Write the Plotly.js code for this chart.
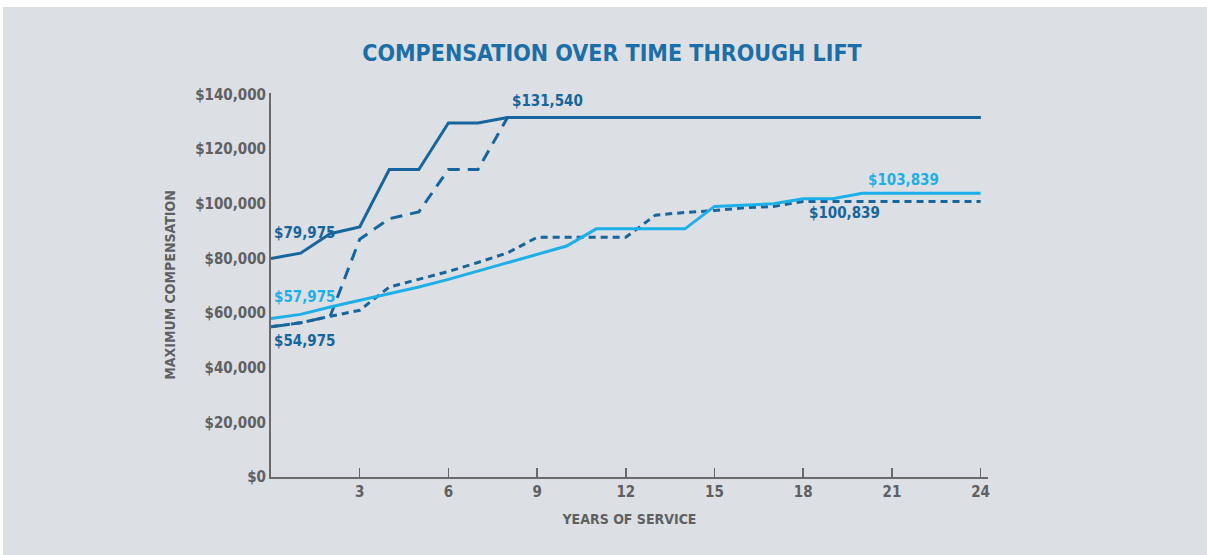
<!DOCTYPE html>
<html>
<head>
<meta charset="utf-8">
<script src="https://cdn.plot.ly/plotly-3.0.1.min.js"></script>
<style>
  body { margin:0; background:#ffffff; }
  #bg { position:absolute; left:3px; top:7px; width:1204px; height:548px; background:#dcdfe3; }
  #chart { position:absolute; left:0; top:0; width:1207px; height:555px; }
</style>
</head>
<body>
<div id="bg"></div>
<div id="chart"></div>
<script>
const years = [0,1,2,3,4,5,6,7,8,9,10,11,12,13,14,15,16,17,18,19,20,21,22,23,24];
const topSolid  = [79975,81900,89000,91500,112500,112500,129500,129500,131540,131540,131540,131540,131540,131540,131540,131540,131540,131540,131540,131540,131540,131540,131540,131540,131540];
const topDashed = [54975,56400,58800,87000,94500,97000,112500,112500,131540,131540,131540,131540,131540,131540,131540,131540,131540,131540,131540,131540,131540,131540,131540,131540,131540];
const lightSolid = [57975,59500,62200,64600,67000,69500,72300,75300,78300,81300,84500,90800,90800,90800,90800,99000,99500,100000,101800,101800,103839,103839,103839,103839,103839];
const darkDotted = [54975,56400,58800,61000,69500,72300,75200,78500,82000,87700,87700,87700,87700,95800,96800,97500,98500,99000,100839,100839,100839,100839,100839,100839,100839];
const yTickVals = [0,20000,40000,60000,80000,100000,120000,140000];
const yTickText = ['$0','$20,000','$40,000','$60,000','$80,000','$100,000','$120,000','$140,000'];
const xTickVals = [3,6,9,12,15,18,21,24];
const labels = ['$79,975','$131,540','$57,975','$54,975','$103,839','$100,839'];

const DARK = '#17659d';
const LIGHT = '#1db0e8';
const GRAY = '#5f6062';
const FONT = 'Liberation Sans Narrow, DejaVu Sans Condensed, sans-serif';

const traces = [
  {x: years, y: topDashed, mode:'lines', line:{color:DARK, width:3, dash:'12px,8px'}, hoverinfo:'skip'},
  {x: years, y: darkDotted, mode:'lines', line:{color:DARK, width:3, dash:'7px,5px'}, hoverinfo:'skip'},
  {x: years, y: lightSolid, mode:'lines', line:{color:LIGHT, width:3}, hoverinfo:'skip'},
  {x: years, y: topSolid, mode:'lines', line:{color:DARK, width:3}, hoverinfo:'skip'}
];

const annFont = (c) => ({family: FONT, size: 15, color: c, weight: 'bold'});
const annotations = [
  {x: years[0], y: topSolid[0], text: labels[0], xanchor:'left', yanchor:'bottom', yshift: 14, xshift: 1, showarrow:false, font: annFont(DARK)},
  {x: years[8], y: topSolid[8], text: labels[1], xanchor:'left', yanchor:'bottom', yshift: 5, xshift: 2, showarrow:false, font: annFont(DARK)},
  {x: years[0], y: lightSolid[0], text: labels[2], xanchor:'left', yanchor:'bottom', yshift: 11, xshift: 1, showarrow:false, font: annFont(LIGHT)},
  {x: years[0], y: darkDotted[0], text: labels[3], xanchor:'left', yanchor:'top', yshift: -3, xshift: 1, showarrow:false, font: annFont(DARK)},
  {x: years[20], y: lightSolid[20], text: labels[4], xanchor:'left', yanchor:'bottom', yshift: 2, xshift: 4, showarrow:false, font: annFont(LIGHT)},
  {x: years[18], y: darkDotted[18], text: labels[5], xanchor:'left', yanchor:'top', yshift: -1, xshift: 4, showarrow:false, font: annFont(DARK)}
];

const layout = {
  width: 1207, height: 555,
  paper_bgcolor: 'rgba(0,0,0,0)', plot_bgcolor: 'rgba(0,0,0,0)',
  showlegend: false,
  margin: {l: 271, r: 219, t: 93, b: 78},
  title: {text: 'COMPENSATION OVER TIME THROUGH LIFT', x: 0.507, xref:'container', y: 0.905, yref:'container', yanchor:'middle', xanchor:'center',
          font: {family: FONT, size: 23, color: '#1b6ea8', weight: 'bold'}},
  xaxis: {
    range: [0, 24.25], showgrid:false, zeroline:false,
    showline:true, linecolor:'#6a6a6a', linewidth:2,
    ticks:'inside', ticklen:9, tickwidth:1.5, tickcolor:'#6a6a6a',
    tickvals: xTickVals,
    tickfont: {family: FONT, size: 15, color: GRAY, weight:'bold'},
    title: {text:'YEARS OF SERVICE', standoff: 14, font:{family: FONT, size: 14, color: GRAY, weight:'bold'}},
    fixedrange: true
  },
  yaxis: {
    range: [0, 140500], showgrid:false, zeroline:false,
    showline:true, linecolor:'#6a6a6a', linewidth:2,
    ticks:'', tickvals: yTickVals, ticktext: yTickText,
    tickfont: {family: FONT, size: 15, color: GRAY, weight:'bold'},
    title: {text:'MAXIMUM COMPENSATION', standoff: 16, font:{family: FONT, size: 14, color: GRAY, weight:'bold'}},
    fixedrange: true
  },
  annotations: annotations
};

Plotly.newPlot('chart', traces, layout, {displayModeBar:false, staticPlot:true});
</script>
</body>
</html>
